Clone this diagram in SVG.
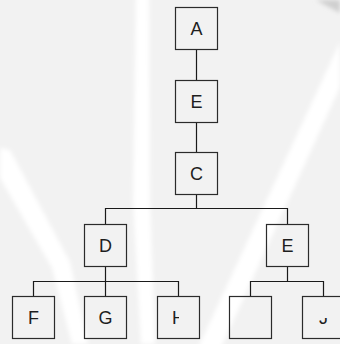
<svg xmlns="http://www.w3.org/2000/svg" width="340" height="344" viewBox="0 0 340 344">
  <defs>
    <filter id="soft" x="-20%" y="-20%" width="140%" height="140%">
      <feGaussianBlur stdDeviation="2"/>
    </filter>
    <clipPath id="clipH"><rect x="150" y="290" width="29" height="50"/></clipPath>
    <clipPath id="clipJ"><rect x="300" y="318" width="44" height="30"/></clipPath>
    <style>
      .box { fill: none; stroke: #2b2b2b; stroke-width: 1.2; }
      .lbl { font-family: "Liberation Sans", "DejaVu Sans", sans-serif; font-size: 18px; fill: #1e1e1e; text-anchor: middle; }
      .conn { fill: none; stroke: #1a1a1a; stroke-width: 1.2; }
    </style>
  </defs>

  <!-- background -->
  <rect x="0" y="0" width="340" height="344" fill="#f2f2f2"/>
  <g id="background" fill="#ffffff" filter="url(#soft)">
    <polygon points="136,-5 149,-5 150,200 155,344 141,344 133,200"/>
    <polygon points="0,148 10,150 70,262 88,344 72,344 52,268 0,178"/>
    <polygon points="340,42 340,87 220,350 197,350"/>
  </g>
  <polygon points="316,0 340,0 340,13" fill="#cfcfcf" filter="url(#soft)"/>

  <!-- connectors -->
  <g id="connectors" class="conn">
    <line x1="196.5" y1="49.5" x2="196.5" y2="80.5"/>
    <line x1="196.5" y1="122.5" x2="196.5" y2="152.5"/>
    <polyline points="196.5,194.5 196.5,208.5"/>
    <polyline points="105.5,224.5 105.5,208.5 287.5,208.5 287.5,224.5"/>
    <polyline points="105.5,266.5 105.5,296.5"/>
    <polyline points="33.5,296.5 33.5,281.5 178.5,281.5 178.5,296.5"/>
    <polyline points="287.5,266.5 287.5,281.5"/>
    <polyline points="250.5,296.5 250.5,281.5 323.5,281.5 323.5,296.5"/>
  </g>

  <!-- nodes -->
  <g id="node-A">
    <rect class="box" x="175.5" y="7.5" width="42" height="42"/>
    <text class="lbl" x="196.5" y="34.5">A</text>
  </g>
  <g id="node-E1">
    <rect class="box" x="175.5" y="80.5" width="42" height="42"/>
    <text class="lbl" x="196.5" y="107.5">E</text>
  </g>
  <g id="node-C">
    <rect class="box" x="175.5" y="152.5" width="42" height="42"/>
    <text class="lbl" x="196.5" y="179.5">C</text>
  </g>
  <g id="node-D">
    <rect class="box" x="84.5" y="224.5" width="42" height="42"/>
    <text class="lbl" x="105.5" y="251.5">D</text>
  </g>
  <g id="node-E2">
    <rect class="box" x="266.5" y="224.5" width="42" height="42"/>
    <text class="lbl" x="287.5" y="251.5">E</text>
  </g>
  <g id="node-F">
    <rect class="box" x="12.5" y="296.5" width="42" height="42"/>
    <text class="lbl" x="33.5" y="323.5">F</text>
  </g>
  <g id="node-G">
    <rect class="box" x="84.5" y="296.5" width="42" height="42"/>
    <text class="lbl" x="105.5" y="323.5">G</text>
  </g>
  <g id="node-H">
    <rect class="box" x="157.5" y="296.5" width="42" height="42"/>
    <text class="lbl" x="178.5" y="323.5" clip-path="url(#clipH)">H</text>
  </g>
  <g id="node-I">
    <rect class="box" x="229.5" y="296.5" width="42" height="42"/>
  </g>
  <g id="node-J">
    <rect class="box" x="302.5" y="296.5" width="42" height="42"/>
    <text class="lbl" x="323.5" y="323.5" clip-path="url(#clipJ)">J</text>
  </g>
</svg>
